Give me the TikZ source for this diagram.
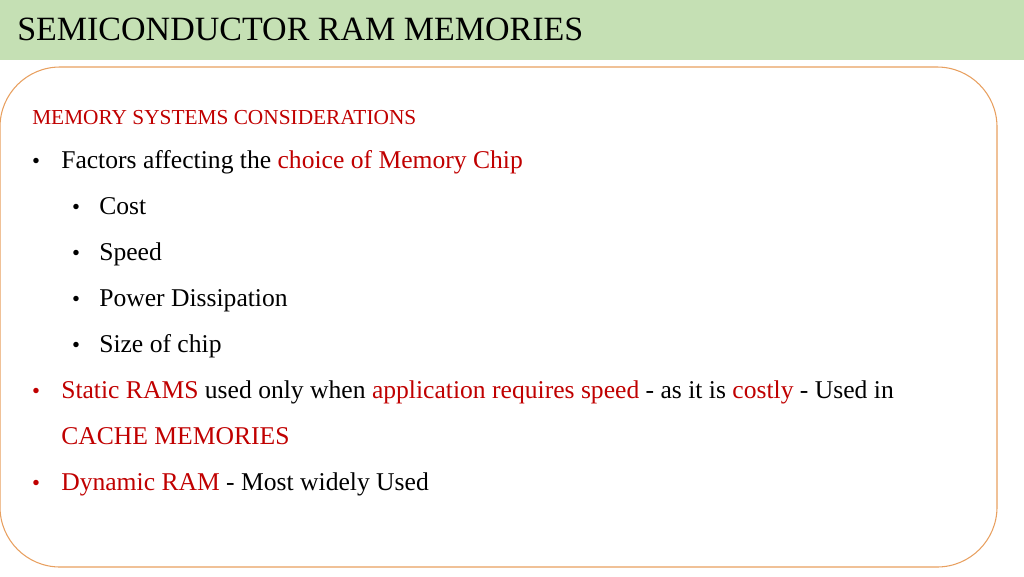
\documentclass[tikz,border=0pt]{standalone}
\usepackage{fontspec}
\setmainfont{Liberation Serif}
\definecolor{titlegreen}{HTML}{C5E0B4}
\definecolor{boxorange}{HTML}{E8A060}
\definecolor{hired}{HTML}{C00000}
\tikzset{
  txt/.style={anchor=base west, inner sep=0pt, font=\fontsize{19.2}{22}\selectfont},
  bul/.style={anchor=base, inner sep=0pt, font=\fontsize{17}{20}\selectfont}
}
\begin{document}
\begin{tikzpicture}[x=0.75pt, y=-0.75pt]
  \useasboundingbox (0,0) rectangle (1024,576);
  \fill[titlegreen] (0,0) rectangle (1024,60);
  \node[anchor=base west, inner sep=0pt, font=\fontsize{25.5}{30}\selectfont] (title) at (17,40) {SEMICONDUCTOR RAM MEMORIES};
  \draw[boxorange, line width=0.8pt, rounded corners=45pt] (0,67) rectangle (997,567);

  \node[txt, text=hired, font=\fontsize{16}{18}\selectfont] (head) at (32,124) {MEMORY SYSTEMS CONSIDERATIONS};

  \node[bul] (b1) at (36,168) {\textbullet};
  \node[txt] (t1) at (61,168) {Factors affecting the \textcolor{hired}{choice of Memory Chip}};
  \foreach \y/\name/\label in {214/cost/Cost, 260/speed/Speed, 306/power/Power Dissipation, 352/size/Size of chip} {
    \node[bul] (b\name) at (76,\y) {\textbullet};
    \node[txt] (t\name) at (99,\y) {\label};
  }
  \node[bul, text=hired] (b2) at (36,398) {\textbullet};
  \node[txt] (t2) at (61,398) {\textcolor{hired}{Static RAMS} used only when \textcolor{hired}{application requires speed} - as it is \textcolor{hired}{costly} - Used in};
  \node[txt, text=hired] (t2b) at (61,444) {CACHE MEMORIES};
  \node[bul, text=hired] (b3) at (36,490) {\textbullet};
  \node[txt] (t3) at (61,490) {\textcolor{hired}{Dynamic RAM} - Most widely Used};
\end{tikzpicture}
\end{document}
